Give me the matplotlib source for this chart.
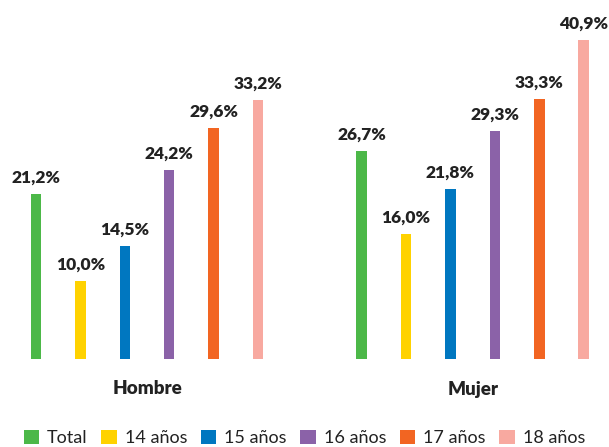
import matplotlib.pyplot as plt
from matplotlib.patches import Patch

groups = ["Hombre", "Mujer"]
series = ["Total", "14 años", "15 años", "16 años", "17 años", "18 años"]
colors = ["#4CB848", "#FFD200", "#0077C0", "#8B62A8", "#F26522", "#F8A9A0"]
hombre = [21.2, 10.0, 14.5, 24.2, 29.6, 33.2]
mujer = [26.7, 16.0, 21.8, 29.3, 33.3, 40.9]
values = [hombre, mujer]

plt.rcParams["font.family"] = ["Lato", "DejaVu Sans"]

fig = plt.figure(figsize=(6.09, 4.47), dpi=100)
# axes spans the plotting area in pixel-like x units
ax = fig.add_axes([0, 88.5 / 447, 1, 1 - 88.5 / 447])
ax.set_xlim(0, 609)
ax.set_ylim(0, 358.5 / 7.78)
ax.axis("off")

group_step = 325.7
first = 36.0
step = 44.4
bar_w = 10.5

for g, vals in enumerate(values):
    for i, v in enumerate(vals):
        x = first + g * group_step + i * step
        ax.bar(x, v, width=bar_w, color=colors[i], linewidth=0)
        ax.annotate(f"{v:.1f}%".replace(".", ","), (x, v), xytext=(0, 6),
                    textcoords="offset points", ha="center", va="bottom",
                    fontsize=12.5, fontweight="heavy", color="#222222")
    center = first + g * group_step + 2.5 * step
    fig.text(center / 609, 1 - 389 / 447, groups[g], ha="center", va="center",
             fontsize=13.5, fontweight="heavy", color="#222222")

handles = [Patch(facecolor=c, edgecolor="none") for c in colors]
fig.legend(handles, series, loc="center", bbox_to_anchor=(0.5, 1 - 438 / 447),
           ncol=6, frameon=False, fontsize=13, handlelength=0.85, handleheight=0.85,
           handletextpad=0.45, columnspacing=0.75, labelcolor="#222222",
           borderaxespad=0, borderpad=0)

fig.savefig("out.png", dpi=100)
